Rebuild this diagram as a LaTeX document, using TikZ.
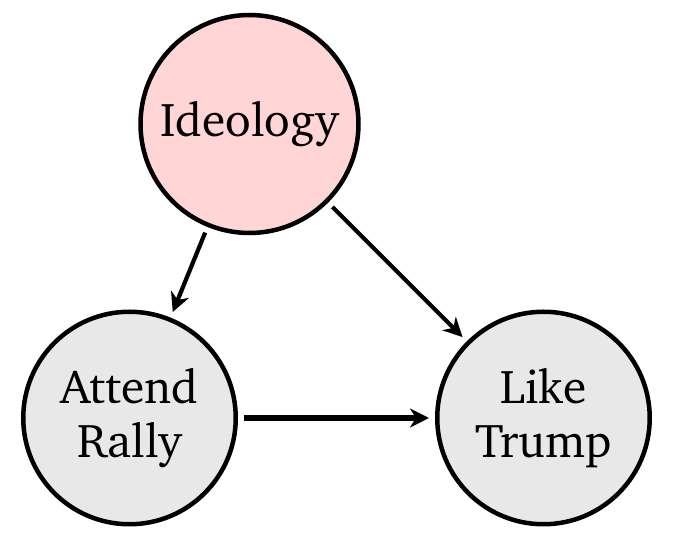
\documentclass[tikz,border=0pt]{standalone}
\usepackage[T1]{fontenc}
\usepackage{charter}
\usepackage{tikz}
\usetikzlibrary{arrows.meta}
\definecolor{ideopink}{RGB}{255,213,214}
\definecolor{nodegray}{RGB}{232,232,232}
\tikzset{
	varnode/.style={shape=circle,line width=0.045cm,draw=black,
		align=center,inner sep=0pt,
		font=\fontsize{13.5}{15.2}\selectfont},
	causal/.style={-{Stealth[length=0.19cm,width=0.19cm,inset=0.06cm]},
		line width=0.042cm,shorten >=0.06cm,shorten <=0.06cm}
}

\begin{document}
\begin{tikzpicture}
		\useasboundingbox (0,0) rectangle (6.75,-5.46);
		\draw node(ideology)[varnode,
						 minimum size=2.18cm,
						 fill=ideopink,
						 at={(2.495,-1.24)}]
			{Ideology};
		\draw node(rally)[varnode,
						 minimum size=2.125cm,
						 fill=nodegray,
						 at={(1.295,-4.18)}]
			{Attend\\Rally};
		\draw node(trump)[varnode,
						 minimum size=2.125cm,
						 fill=nodegray,
						 at={(5.435,-4.18)}]
			{Like\\Trump};
		\draw[causal] (ideology) -- (rally);
		\draw[causal] (ideology) -- (trump);
		\draw[causal,line width=0.055cm] (rally) -- (trump);
		\end{tikzpicture}
\end{document}
